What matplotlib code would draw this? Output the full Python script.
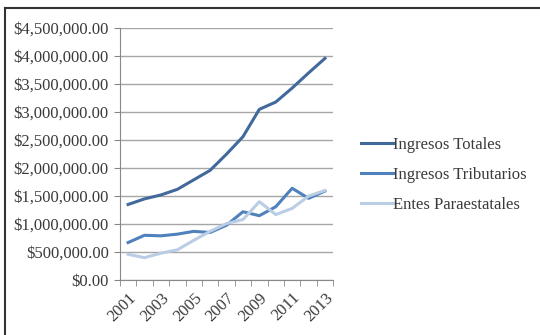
import matplotlib
matplotlib.use("Agg")
import matplotlib.pyplot as plt
from matplotlib.lines import Line2D
from matplotlib.ticker import FuncFormatter

years = [str(y) for y in range(2001, 2014)]
ingresos_totales = [1350000, 1450000, 1520000, 1620000, 1790000, 1960000, 2250000,
                    2560000, 3050000, 3180000, 3430000, 3700000, 3960000]
ingresos_tributarios = [670000, 800000, 790000, 820000, 870000, 850000, 980000,
                        1220000, 1150000, 1310000, 1640000, 1460000, 1590000]
entes_paraestatales = [460000, 400000, 480000, 540000, 710000, 870000, 1010000,
                       1080000, 1400000, 1170000, 1280000, 1500000, 1600000]

plt.rcParams['font.family'] = ['Liberation Serif', 'DejaVu Serif']

fig = plt.figure(figsize=(5.4, 3.35), dpi=100)
ax = fig.add_axes([0.222, 0.164, 0.395, 0.752])

x = list(range(len(years)))
ax.plot(x, ingresos_totales, color='#41699c', lw=2.2, label='Ingresos Totales')
ax.plot(x, ingresos_tributarios, color='#4f81bd', lw=2.2, label='Ingresos Tributarios')
ax.plot(x, entes_paraestatales, color='#b9cde5', lw=2.2, label='Entes Paraestatales')

ax.set_ylim(0, 4500000)
ax.set_yticks(range(0, 4500001, 500000))
ax.yaxis.set_major_formatter(FuncFormatter(lambda v, p: '${:,.2f}'.format(v)))
ax.set_xlim(-0.5, len(years) - 0.5)
ax.set_xticks(x[::2])
ax.set_xticklabels(years[::2], rotation=45, ha='right', rotation_mode='anchor')
ax.set_xticks([i - 0.5 for i in range(len(years) + 1)], minor=True)
ax.tick_params(axis='x', which='major', length=0, labelsize=12, pad=7)
ax.tick_params(axis='x', which='minor', length=4, color='#888888')
ax.tick_params(axis='y', length=4, labelsize=12, color='#888888', pad=4)
for lab in ax.get_yticklabels() + ax.get_xticklabels():
    lab.set_color('#3a3a3a')
ax.grid(axis='y', color='#a6a6a6', lw=1)
ax.set_axisbelow(True)
for s in ['top', 'right']:
    ax.spines[s].set_visible(False)
ax.spines['left'].set_color('#888888')
ax.spines['bottom'].set_color('#888888')

leg = fig.legend(loc='center left', bbox_to_anchor=(0.656, 0.478), frameon=False,
                 fontsize=12, handlelength=1.9, handletextpad=0.0, labelspacing=0.82,
                 borderaxespad=0)
for t in leg.get_texts():
    t.set_color('#3a3a3a')

fig.add_artist(Line2D([0.01, 0.01], [0.0, 0.977], color='#333333', lw=1.5))
fig.add_artist(Line2D([0.01, 1.0], [0.977, 0.977], color='#333333', lw=1.5))

fig.savefig('out.png', dpi=100)
